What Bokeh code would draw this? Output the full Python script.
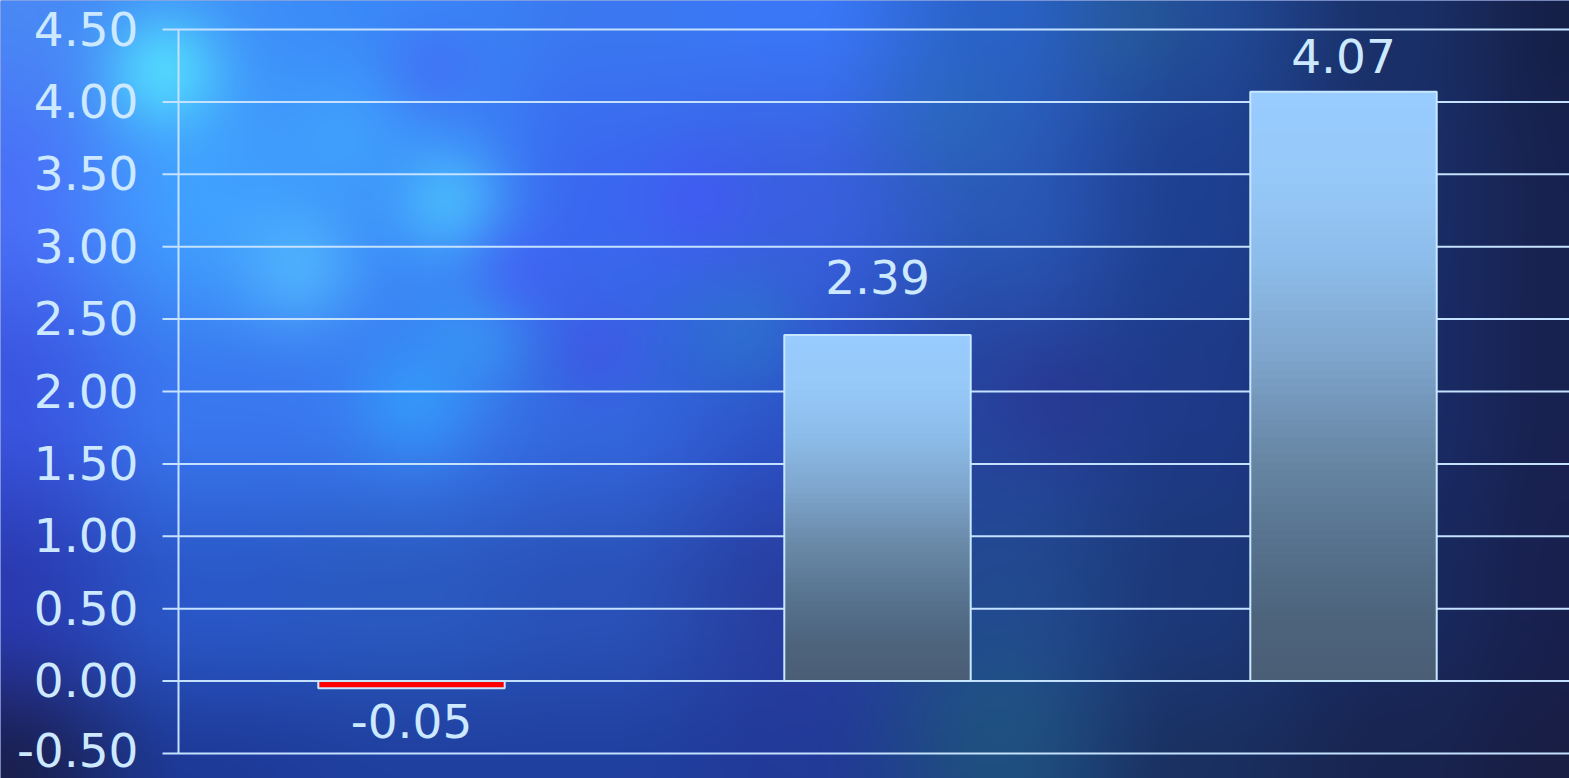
import numpy as np
from bokeh.plotting import figure
from bokeh.models import ColumnDataSource
from bokeh.core.properties import value
from bokeh.embed import file_html
from bokeh.resources import INLINE

# ---------------- data ----------------
values = [-0.05, 2.39, 4.07]
value_labels = ["-0.05", "2.39", "4.07"]
tick_values = [-0.5, 0.0, 0.5, 1.0, 1.5, 2.0, 2.5, 3.0, 3.5, 4.0, 4.5]
tick_labels = ["-0.50", "0.00", "0.50", "1.00", "1.50", "2.00",
               "2.50", "3.00", "3.50", "4.00", "4.50"]

# ---------------- style / layout ----------------
label_offsets = [33, -58, -36]          # screen px offsets of value labels
W, H = 1569, 778
PX_X = 466.0                             # px per category
PX_Y = 144.8                             # px per unit
AXIS_PX = 178                            # axis position inside figure
x_start = -AXIS_PX / PX_X
x_end = (W - AXIS_PX) / PX_X
y_end = 4.5 + 29 / PX_Y
y_start = -0.5 - 25 / PX_Y
BAR_W = 0.4
TICK_LEN = 16 / PX_X
FONT = value("DejaVu Sans")
FS = "47px"
TXT = "#cde9ff"
GRID = "#c4e2ff"
OUTLINE = "#c8e8ff"

p = figure(width=W, height=H, x_range=(x_start, x_end), y_range=(y_start, y_end),
           output_backend="svg", toolbar_location=None, min_border=0,
           x_axis_type=None, y_axis_type=None)
p.grid.visible = False
p.outline_line_color = None
p.background_fill_color = "#2a50c0"
p.border_fill_color = "#2a50c0"

# ---------------- background texture (decorative) ----------------
def hx(c):
    c = c.lstrip("#")
    return [int(c[i:i + 2], 16) for i in (0, 2, 4)]

gx = np.array([0, 200, 400, 600, 800, 1000, 1200, 1400, 1569], float)
gy = np.array([0, 200, 400, 600, 778], float)
grid_hex = [
    ["#4a88f5", "#3f90f8", "#3a88f8", "#3a78f0", "#3a78f8", "#2a62c8", "#224a98", "#1a3068", "#152048"],
    ["#4a70f8", "#40a0ff", "#3a88f8", "#3a68f0", "#3a60e0", "#2a58b8", "#1e4090", "#1a2e68", "#182250"],
    ["#3a55e0", "#3a78f0", "#3a78f0", "#3468e0", "#2d52c8", "#26449e", "#1e3a88", "#1a2c68", "#182250"],
    ["#2a3ab0", "#2a58c8", "#2a5ac0", "#2a52b8", "#283ea0", "#224a90", "#1c3878", "#182a60", "#18204e"],
    ["#1a2050", "#1e3a98", "#2040a0", "#2040a0", "#223a98", "#1e4a80", "#1a3060", "#182450", "#181e44"],
]
G = np.array([[hx(c) for c in row] for row in grid_hex], float)

step = 2
PX = np.arange(0, W, step) + step / 2
PY = np.arange(0, H, step) + step / 2

def weights(v, g):
    i = np.clip(np.searchsorted(g, v, side="right") - 1, 0, len(g) - 2)
    t = np.clip((v - g[i]) / (g[i + 1] - g[i]), 0, 1)
    t = t * t * (3 - 2 * t)
    return i, t

ix, tx = weights(PX, gx)
iy, ty = weights(PY, gy)
rows = G[:, ix, :] * (1 - tx)[None, :, None] + G[:, ix + 1, :] * tx[None, :, None]
img = rows[iy, :, :] * (1 - ty)[:, None, None] + rows[iy + 1, :, :] * ty[:, None, None]

XX, YY = np.meshgrid(PX, PY)
blobs = [
    (164, 70, 42, "#55e4ff", 0.8),
    (448, 200, 40, "#50ccff", 0.65),
    (298, 267, 45, "#58c4ff", 0.6),
    (348, 133, 50, "#44b4ff", 0.45),
    (413, 400, 45, "#30b0ff", 0.5),
    (478, 333, 40, "#3ab0f8", 0.4),
    (746, 333, 45, "#2a90d0", 0.35),
    (950, 120, 50, "#2a78b8", 0.3),
    (1130, 20, 50, "#2a6a90", 0.3),
    (1000, 720, 60, "#226080", 0.3),
    (433, 67, 35, "#4a58f0", 0.35),
    (522, 273, 35, "#4a50f8", 0.35),
    (697, 200, 40, "#4a50ff", 0.35),
    (597, 350, 35, "#4a48e8", 0.35),
    (1060, 400, 45, "#2e2a88", 0.3),
]
for cx, cy, r, col, a in blobs:
    g = a * np.exp(-((XX - cx) ** 2 + (YY - cy) ** 2) / (2.0 * r * r))
    img = img * (1 - g[..., None]) + np.array(hx(col), float)[None, None, :] * g[..., None]

img = np.clip(img, 0, 255).astype(np.uint32)
rgba = (255 << 24) | (img[..., 2] << 16) | (img[..., 1] << 8) | img[..., 0]
rgba = np.flipud(rgba).astype(np.uint32)
p.image_rgba(image=[rgba], x=x_start, y=y_start, dw=x_end - x_start, dh=y_end - y_start)

# ---------------- gridlines + tick marks + axis line ----------------
p.segment(x0=[-TICK_LEN] * len(tick_values), x1=[x_end] * len(tick_values),
          y0=tick_values, y1=tick_values, line_color=GRID, line_width=2)
p.segment(x0=[0], x1=[0], y0=[tick_values[0]], y1=[tick_values[-1]],
          line_color=GRID, line_width=2)

# ---------------- bars with vertical gradient ----------------
stops_t = [0.0, 0.15, 0.3, 0.45, 0.6, 0.75, 0.88, 1.0]
stops_c = ["#99ccff", "#96c8f8", "#8cbbe8", "#7ea5cc", "#6a8aa9", "#587490", "#4e657e", "#4a5e75"]
SC = np.array([hx(c) for c in stops_c], float)

def grad(t):
    return "#%02x%02x%02x" % tuple(int(round(np.interp(t, stops_t, SC[:, k]))) for k in range(3))

positions = [i + 0.5 for i in range(len(values))]
N = 70
sl = dict(left=[], right=[], bottom=[], top=[], color=[])
for xc, v in zip(positions, values):
    if v <= 0:
        continue
    for k in range(N):
        b = v * k / N
        t = v * (k + 1) / N
        sl["left"].append(xc - BAR_W / 2)
        sl["right"].append(xc + BAR_W / 2)
        sl["bottom"].append(b)
        sl["top"].append(min(v, t + v / N * 0.3))
        sl["color"].append(grad(1 - (k + 0.5) / N))
p.quad(left="left", right="right", bottom="bottom", top="top", fill_color="color",
       line_color=None, source=ColumnDataSource(sl))

neg = dict(left=[], right=[], bottom=[], top=[])
for xc, v in zip(positions, values):
    if v < 0:
        neg["left"].append(xc - BAR_W / 2)
        neg["right"].append(xc + BAR_W / 2)
        neg["bottom"].append(v)
        neg["top"].append(0)
p.quad(left="left", right="right", bottom="bottom", top="top", fill_color="#ff0000",
       line_color=None, source=ColumnDataSource(neg))

p.quad(left=[x - BAR_W / 2 for x in positions], right=[x + BAR_W / 2 for x in positions],
       bottom=[min(0, v) for v in values], top=[max(0, v) for v in values],
       fill_alpha=0, line_color=OUTLINE, line_width=2)

# ---------------- texts ----------------
tick_label_dy = [-4] + [-1] * (len(tick_values) - 1)   # keep bottom label inside the canvas
p.text(x=[0] * len(tick_values), y=tick_values, text=tick_labels, x_offset=-40,
       y_offset=tick_label_dy,
       text_align="right", text_baseline="middle", text_font=FONT,
       text_font_size=FS, text_color=TXT)

p.text(x=positions, y=values, text=value_labels, y_offset=label_offsets,
       text_align="center", text_baseline="middle", text_font=FONT,
       text_font_size=FS, text_color=TXT)

open("out.html", "w").write(file_html(p, INLINE))
